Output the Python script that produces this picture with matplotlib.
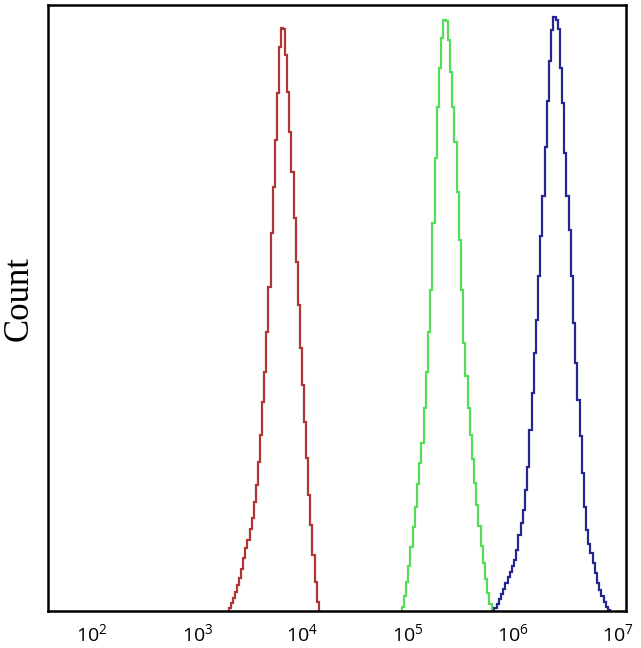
import numpy as np; import matplotlib.pyplot as plt

##### Données (comptes normalisés, bornes en log10)
red_range = (3.299, 4.155)
red_counts = [0.5, 1.3, 2.2, 3.2, 4.3, 5.5, 7.0, 8.7,
              10.4, 11.7, 13.6, 15.3, 18.0, 20.8, 24.6, 29.0, 34.5, 39.5, 46.1, 53.5,
              62.3, 70.0, 77.7, 85.4, 93.1,
              96.2, 96.0,
              91.7, 85.7, 79.1, 72.5, 64.8, 57.6, 50.5, 43.4, 37.3, 31.2, 25.2, 19.1,
              14.2, 9.2, 4.8, 1.5]

green_range = (4.944, 5.799)
green_counts = [0.7, 2.5, 4.8, 7.5, 10.5, 13.8, 17.2, 21.0, 24.5,
                27.7, 33.5, 39.5, 46.1, 53.0, 64.0, 74.7, 83.2, 89.6, 94.5,
                97.6, 97.3,
                94.2, 89.0, 83.2, 77.4, 69.2, 61.2, 53.0, 44.2, 38.7,
                33.5, 29.0, 25.0, 21.1, 17.5, 14.0, 10.8, 7.9, 5.2, 3.0, 1.2]

blue_range = (5.826, 6.925)
blue_counts = [0.5, 1.2, 2.0, 2.8, 3.6, 4.6, 5.6, 6.4, 7.4, 8.4, 10.1, 12.5, 14.5,
               16.7, 20.0, 23.8, 29.9, 36.0, 42.6, 48.0, 55.2, 61.8, 68.4, 76.6, 84.2,
               90.7, 95.9,
               98.1, 97.5,
               96.1, 89.6, 83.8, 75.5, 68.4, 62.9, 55.2, 47.5, 40.9, 34.8, 28.8, 22.7,
               17.2,
               13.4, 11.0, 9.5, 7.9, 6.2, 4.6, 3.5, 2.4, 1.5, 0.7, 0.2]

tick_pows = [2, 3, 4, 5, 6, 7]

##### Figure
fig = plt.figure(figsize=(6.41, 6.48), dpi=100)
ax = fig.add_axes([0.0749, 0.0571, 0.9017, 0.9352])

for rng, cnt, col in [(red_range, red_counts, "#B03535"),
                      (green_range, green_counts, "#55DD55"),
                      (blue_range, blue_counts, "#262690")]:
    edges = 10 ** np.linspace(rng[0], rng[1], len(cnt) + 1)
    ax.stairs(cnt, edges, color=col, linewidth=1.6, baseline=0)

ax.set_xscale('log')
ax.set_xlim(10 ** 1.582, 10 ** 7.076); ax.set_ylim(0, 100)
ax.set_xticks([10.0 ** p for p in tick_pows])
ax.set_xticklabels([r'$\mathdefault{10^{%d}}$' % p for p in tick_pows],
                   fontsize=14, family='Open Sans')
ax.minorticks_off()
ax.tick_params(axis='x', length=0, pad=9)
ax.set_yticks([])
for s in ax.spines.values():
    s.set_linewidth(1.8); s.set_color('black')

ax.set_ylabel('Count', family='Liberation Serif', fontsize=25)
ax.yaxis.set_label_coords(-0.021, 0.515)

fig.savefig('out.png', dpi=100)
